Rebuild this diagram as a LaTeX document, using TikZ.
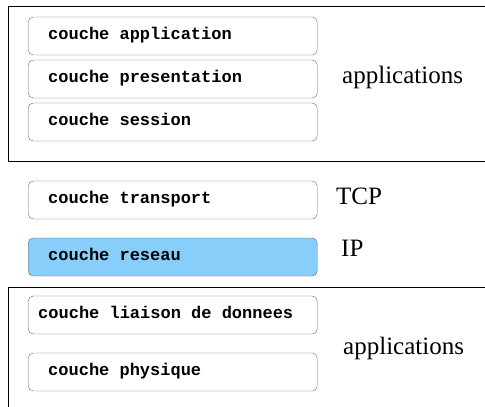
\documentclass[tikz,border=0pt]{standalone}
\usepackage{fontspec}
\setmainfont{Liberation Serif}
\setmonofont{Liberation Mono}
\definecolor{reseaublue}{RGB}{135,206,250}

\begin{document}
\begin{tikzpicture}[x=1pt, y=-1pt]
		\tikzstyle{couche}=[draw=black!60, rounded corners=5pt, anchor=west, text width=249pt, inner xsep=20pt, inner ysep=9pt, text height=13pt, text depth=7pt, align=left, font=\ttfamily\bfseries\fontsize{17}{17}\selectfont, execute at begin node={\spaceskip=10.2pt\relax}]
		\tikzstyle{proto}=[anchor=west, inner sep=0pt, font=\fontsize{25}{25}\selectfont]
		\useasboundingbox (0, 0) rectangle (485, 407);
		% couches hautes
		\draw (485, 6) -- (8, 6) -- (8, 161) -- (485, 161);
		\node[couche] (app) at (28, 36) {couche application};
		\node[couche] (pres) at (28, 79) {couche presentation};
		\node[couche] (sess) at (28, 122) {couche session};
		\node[proto] (applis) at (342, 77) {applications};
		% transport et reseau
		\node[couche] (trans) at (28, 200) {couche transport};
		\node[proto] (tcp) at (336, 196) {TCP};
		\node[couche, fill=reseaublue] (res) at (28, 257) {couche reseau};
		\node[proto] (ip) at (341, 248) {IP};
		% couches basses
		\draw (485, 287) -- (8, 287) -- (8, 407);
		\node[couche, inner xsep=10pt, text width=269pt] (liai) at (28, 315) {couche liaison de donnees};
		\node[couche] (phys) at (28, 372) {couche physique};
		\node[proto] (applis2) at (343, 348) {applications};
\end{tikzpicture}
\end{document}
